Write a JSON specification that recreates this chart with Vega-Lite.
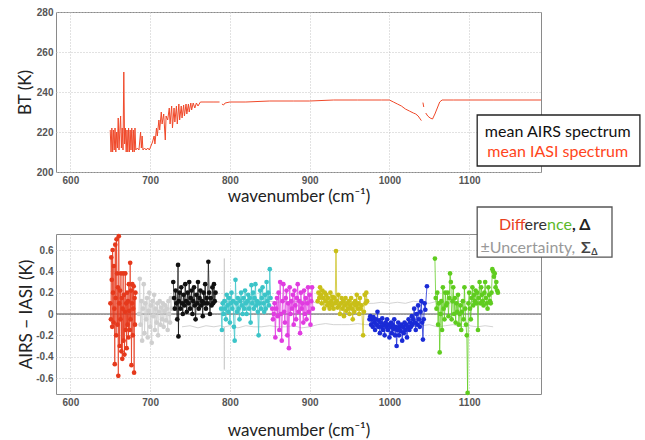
{
"$schema": "https://vega.github.io/schema/vega-lite/v6.json",
"autosize": {"type": "none"},
"padding": {"left": 56, "top": 12, "right": 589, "bottom": 428},
"background": "white",
"spacing": 62,
"bounds": "flush",
"config": {
  "font": "Lato",
  "view": {"stroke": "#8a8a8a", "strokeWidth": 1},
  "axis": {"labelFont": "Liberation Sans", "labelFontSize": 10, "labelFontWeight": "bold", "labelColor": "#555", "labelOverlap": false, "ticks": false, "domain": false, "grid": true, "gridColor": "#c4c4c4", "gridDash": [1, 2], "titleFont": "Lato", "titleFontSize": 17, "titleFontWeight": "normal", "titleColor": "#222", "labelPadding": 3, "titleBaseline": "middle"}
},
"datasets": {
  "spec": [
    {"wn":650,"bt":221,"part":"a"},{"wn":651,"bt":210,"part":"a"},{"wn":652,"bt":222,"part":"a"},{"wn":653,"bt":210,"part":"a"},{"wn":654,"bt":221,"part":"a"},{"wn":655,"bt":211,"part":"a"},{"wn":656,"bt":222,"part":"a"},{"wn":657,"bt":210,"part":"a"},{"wn":658,"bt":220,"part":"a"},{"wn":659,"bt":212,"part":"a"},{"wn":660,"bt":227,"part":"a"},{"wn":661,"bt":211,"part":"a"},{"wn":662,"bt":221,"part":"a"},{"wn":663,"bt":228,"part":"a"},{"wn":664,"bt":212,"part":"a"},{"wn":665,"bt":222,"part":"a"},{"wn":666,"bt":211,"part":"a"},{"wn":667,"bt":250,"part":"a"},{"wn":668,"bt":214,"part":"a"},{"wn":669,"bt":222,"part":"a"},{"wn":670,"bt":210,"part":"a"},{"wn":671,"bt":221,"part":"a"},{"wn":672,"bt":210,"part":"a"},{"wn":673,"bt":222,"part":"a"},{"wn":674,"bt":210,"part":"a"},{"wn":675,"bt":221,"part":"a"},{"wn":676,"bt":211,"part":"a"},{"wn":677,"bt":222,"part":"a"},{"wn":678,"bt":210,"part":"a"},{"wn":679,"bt":221,"part":"a"},{"wn":680,"bt":210,"part":"a"},{"wn":681,"bt":222,"part":"a"},{"wn":682,"bt":211,"part":"a"},{"wn":684,"bt":212,"part":"a"},{"wn":686,"bt":211,"part":"a"},{"wn":688,"bt":220,"part":"a"},{"wn":689,"bt":212,"part":"a"},{"wn":690,"bt":218,"part":"a"},{"wn":691,"bt":211,"part":"a"},{"wn":693,"bt":212,"part":"a"},{"wn":695,"bt":211,"part":"a"},{"wn":697,"bt":212,"part":"a"},{"wn":699,"bt":211,"part":"a"},{"wn":701,"bt":213,"part":"a"},{"wn":703,"bt":215,"part":"a"},{"wn":705,"bt":218,"part":"a"},{"wn":706,"bt":214,"part":"a"},{"wn":708,"bt":222,"part":"a"},{"wn":709,"bt":218,"part":"a"},{"wn":711,"bt":226,"part":"a"},{"wn":712,"bt":221,"part":"a"},{"wn":714,"bt":230,"part":"a"},{"wn":715,"bt":224,"part":"a"},{"wn":717,"bt":229,"part":"a"},{"wn":719,"bt":216,"part":"a"},{"wn":720,"bt":228,"part":"a"},{"wn":722,"bt":226,"part":"a"},{"wn":724,"bt":232,"part":"a"},{"wn":725,"bt":224,"part":"a"},{"wn":727,"bt":233,"part":"a"},{"wn":728,"bt":222,"part":"a"},{"wn":730,"bt":232,"part":"a"},{"wn":731,"bt":225,"part":"a"},{"wn":733,"bt":233,"part":"a"},{"wn":734,"bt":224,"part":"a"},{"wn":736,"bt":234,"part":"a"},{"wn":737,"bt":226,"part":"a"},{"wn":739,"bt":233,"part":"a"},{"wn":740,"bt":227,"part":"a"},{"wn":742,"bt":233.5,"part":"a"},{"wn":743,"bt":228,"part":"a"},{"wn":745,"bt":234,"part":"a"},{"wn":746,"bt":229,"part":"a"},{"wn":748,"bt":234,"part":"a"},{"wn":749,"bt":230,"part":"a"},{"wn":751,"bt":234.5,"part":"a"},{"wn":752,"bt":231,"part":"a"},{"wn":754,"bt":234.5,"part":"a"},{"wn":756,"bt":232,"part":"a"},{"wn":758,"bt":234.5,"part":"a"},{"wn":760,"bt":233,"part":"a"},{"wn":763,"bt":235,"part":"a"},{"wn":770,"bt":235,"part":"a"},{"wn":780,"bt":235,"part":"a"},{"wn":787,"bt":235,"part":"a"},
    {"wn":790,"bt":234,"part":"b"},{"wn":792,"bt":233.5,"part":"b"},{"wn":794,"bt":234.5,"part":"b"},{"wn":800,"bt":235,"part":"b"},{"wn":820,"bt":235,"part":"b"},{"wn":850,"bt":235.5,"part":"b"},{"wn":880,"bt":235.5,"part":"b"},{"wn":900,"bt":235.5,"part":"b"},{"wn":930,"bt":236,"part":"b"},{"wn":960,"bt":236,"part":"b"},{"wn":990,"bt":236,"part":"b"},{"wn":1000,"bt":236,"part":"b"},{"wn":1005,"bt":235,"part":"b"},{"wn":1010,"bt":234,"part":"b"},{"wn":1015,"bt":233,"part":"b"},{"wn":1020,"bt":231.5,"part":"b"},{"wn":1025,"bt":230.5,"part":"b"},{"wn":1030,"bt":229.5,"part":"b"},{"wn":1033,"bt":229,"part":"b"},{"wn":1036,"bt":228,"part":"b"},{"wn":1040,"bt":225.7,"part":"b"},
    {"wn":1042,"bt":234.7,"part":"c"},{"wn":1043,"bt":232.5,"part":"c"},
    {"wn":1045.5,"bt":229.5,"part":"d"},{"wn":1048,"bt":228,"part":"d"},{"wn":1051,"bt":227,"part":"d"},{"wn":1054,"bt":226.5,"part":"d"},{"wn":1057,"bt":229,"part":"d"},{"wn":1060,"bt":232,"part":"d"},{"wn":1063,"bt":235,"part":"d"},{"wn":1066,"bt":236,"part":"d"},{"wn":1080,"bt":236,"part":"d"},{"wn":1100,"bt":236,"part":"d"},{"wn":1130,"bt":236,"part":"d"},{"wn":1160,"bt":236,"part":"d"},{"wn":1190,"bt":236,"part":"d"}
  ],
  "unc": [
    {"wn":740,"up":0.12,"lo":-0.12},{"wn":750,"up":0.11,"lo":-0.11},{"wn":760,"up":0.12,"lo":-0.13},{"wn":770,"up":0.11,"lo":-0.11},{"wn":780,"up":0.12,"lo":-0.12},{"wn":788,"up":0.11,"lo":-0.11},{"wn":792.8,"up":0.12,"lo":-0.12},{"wn":793,"up":0.52,"lo":-0.52},{"wn":793.2,"up":0.12,"lo":-0.12},{"wn":800,"up":0.11,"lo":-0.11},{"wn":810,"up":0.12,"lo":-0.13},{"wn":820,"up":0.11,"lo":-0.11},{"wn":830,"up":0.12,"lo":-0.12},{"wn":840,"up":0.11,"lo":-0.12},{"wn":850,"up":0.12,"lo":-0.11},{"wn":860,"up":0.11,"lo":-0.12},{"wn":870,"up":0.12,"lo":-0.12},{"wn":880,"up":0.11,"lo":-0.11},{"wn":890,"up":0.13,"lo":-0.13},{"wn":900,"up":0.12,"lo":-0.12},{"wn":910,"up":0.1,"lo":-0.1},{"wn":920,"up":0.09,"lo":-0.09},{"wn":930,"up":0.1,"lo":-0.1},{"wn":940,"up":0.09,"lo":-0.1},{"wn":950,"up":0.1,"lo":-0.1},{"wn":960,"up":0.09,"lo":-0.09},{"wn":970,"up":0.1,"lo":-0.1},{"wn":980,"up":0.1,"lo":-0.1},{"wn":990,"up":0.11,"lo":-0.11},{"wn":1000,"up":0.1,"lo":-0.1},{"wn":1010,"up":0.11,"lo":-0.11},{"wn":1020,"up":0.1,"lo":-0.1},{"wn":1030,"up":0.12,"lo":-0.12},{"wn":1040,"up":0.11,"lo":-0.11},{"wn":1050,"up":0.1,"lo":-0.1},{"wn":1060,"up":0.12,"lo":-0.12},{"wn":1070,"up":0.11,"lo":-0.11},{"wn":1080,"up":0.1,"lo":-0.1},{"wn":1090,"up":0.12,"lo":-0.12},{"wn":1100,"up":0.11,"lo":-0.11},{"wn":1110,"up":0.12,"lo":-0.12},{"wn":1120,"up":0.11,"lo":-0.11},{"wn":1130,"up":0.12,"lo":-0.12}
  ],
  "diff": [
    {"wn":650.2,"d":0.1,"b":"red"},{"wn":650.8,"d":-0.05,"b":"red"},{"wn":651.3,"d":0.53,"b":"red"},{"wn":651.9,"d":0.32,"b":"red"},{"wn":652.4,"d":-0.12,"b":"red"},{"wn":653.0,"d":0.6,"b":"red"},{"wn":653.5,"d":0.2,"b":"red"},{"wn":654.1,"d":-0.08,"b":"red"},{"wn":654.6,"d":0.45,"b":"red"},{"wn":655.2,"d":0.05,"b":"red"},{"wn":655.7,"d":-0.47,"b":"red"},{"wn":656.3,"d":0.65,"b":"red"},{"wn":656.8,"d":0.15,"b":"red"},{"wn":657.4,"d":-0.2,"b":"red"},{"wn":657.9,"d":0.7,"b":"red"},{"wn":658.5,"d":0.38,"b":"red"},{"wn":659.0,"d":-0.1,"b":"red"},{"wn":659.6,"d":0.25,"b":"red"},{"wn":660.1,"d":-0.58,"b":"red"},{"wn":660.7,"d":0.73,"b":"red"},{"wn":661.2,"d":0.1,"b":"red"},{"wn":661.8,"d":-0.3,"b":"red"},{"wn":662.3,"d":0.22,"b":"red"},{"wn":662.9,"d":-0.05,"b":"red"},{"wn":663.4,"d":0.38,"b":"red"},{"wn":664.0,"d":-0.35,"b":"red"},{"wn":664.5,"d":0.15,"b":"red"},{"wn":665.1,"d":-0.42,"b":"red"},{"wn":665.6,"d":0.05,"b":"red"},{"wn":666.2,"d":0.38,"b":"red"},{"wn":666.7,"d":-0.25,"b":"red"},{"wn":667.3,"d":0.18,"b":"red"},{"wn":667.8,"d":-0.38,"b":"red"},{"wn":668.4,"d":0.02,"b":"red"},{"wn":668.9,"d":0.38,"b":"red"},{"wn":669.5,"d":-0.15,"b":"red"},{"wn":670.0,"d":0.1,"b":"red"},{"wn":670.6,"d":-0.32,"b":"red"},{"wn":671.1,"d":0.2,"b":"red"},{"wn":671.7,"d":-0.1,"b":"red"},{"wn":672.2,"d":0.12,"b":"red"},{"wn":672.8,"d":-0.22,"b":"red"},{"wn":673.3,"d":0.28,"b":"red"},{"wn":673.9,"d":0.03,"b":"red"},{"wn":674.4,"d":-0.15,"b":"red"},{"wn":675.0,"d":0.48,"b":"red"},{"wn":675.5,"d":-0.05,"b":"red"},{"wn":676.1,"d":0.22,"b":"red"},{"wn":676.6,"d":-0.48,"b":"red"},{"wn":677.2,"d":0.1,"b":"red"},{"wn":677.7,"d":0.28,"b":"red"},{"wn":678.3,"d":-0.2,"b":"red"},{"wn":678.8,"d":0.05,"b":"red"},{"wn":679.4,"d":0.26,"b":"red"},{"wn":679.9,"d":-0.55,"b":"red"},{"wn":680.5,"d":0.15,"b":"red"},{"wn":681.0,"d":-0.1,"b":"red"},{"wn":681.6,"d":0.2,"b":"red"},
    {"wn":686,"d":0.0,"b":"gray"},{"wn":687,"d":0.33,"b":"gray"},{"wn":688,"d":-0.1,"b":"gray"},{"wn":689,"d":0.12,"b":"gray"},{"wn":690,"d":-0.25,"b":"gray"},{"wn":691,"d":0.05,"b":"gray"},{"wn":692,"d":0.28,"b":"gray"},{"wn":693,"d":-0.18,"b":"gray"},{"wn":694,"d":0.1,"b":"gray"},{"wn":695,"d":-0.05,"b":"gray"},{"wn":696,"d":0.15,"b":"gray"},{"wn":697,"d":-0.22,"b":"gray"},{"wn":698,"d":0.03,"b":"gray"},{"wn":699,"d":0.2,"b":"gray"},{"wn":700,"d":-0.12,"b":"gray"},{"wn":701,"d":0.08,"b":"gray"},{"wn":702,"d":-0.27,"b":"gray"},{"wn":703,"d":0.12,"b":"gray"},{"wn":704,"d":-0.02,"b":"gray"},{"wn":705,"d":0.18,"b":"gray"},{"wn":706,"d":-0.15,"b":"gray"},{"wn":707,"d":0.05,"b":"gray"},{"wn":708,"d":-0.08,"b":"gray"},{"wn":709,"d":0.1,"b":"gray"},{"wn":710,"d":-0.2,"b":"gray"},{"wn":711,"d":0.02,"b":"gray"},{"wn":712,"d":0.12,"b":"gray"},{"wn":713,"d":-0.1,"b":"gray"},{"wn":714,"d":0.06,"b":"gray"},{"wn":715,"d":-0.05,"b":"gray"},{"wn":716,"d":0.1,"b":"gray"},{"wn":717,"d":-0.12,"b":"gray"},{"wn":718,"d":0.03,"b":"gray"},{"wn":719,"d":0.08,"b":"gray"},{"wn":720,"d":-0.06,"b":"gray"},{"wn":721,"d":0.05,"b":"gray"},{"wn":722,"d":-0.15,"b":"gray"},{"wn":723,"d":0.12,"b":"gray"},{"wn":724,"d":0.0,"b":"gray"},{"wn":725,"d":-0.08,"b":"gray"},{"wn":726,"d":0.15,"b":"gray"},{"wn":727,"d":0.05,"b":"gray"},
    {"wn":729,"d":0.3,"b":"black"},{"wn":730,"d":0.15,"b":"black"},{"wn":731,"d":0.05,"b":"black"},{"wn":732,"d":0.22,"b":"black"},{"wn":733,"d":0.1,"b":"black"},{"wn":734,"d":-0.05,"b":"black"},{"wn":735,"d":0.46,"b":"black"},{"wn":735.5,"d":-0.21,"b":"black"},{"wn":736,"d":0.12,"b":"black"},{"wn":737,"d":0.2,"b":"black"},{"wn":738,"d":0.05,"b":"black"},{"wn":739,"d":0.25,"b":"black"},{"wn":740,"d":0.1,"b":"black"},{"wn":741,"d":0.0,"b":"black"},{"wn":742,"d":0.18,"b":"black"},{"wn":743,"d":0.08,"b":"black"},{"wn":744,"d":0.28,"b":"black"},{"wn":745,"d":0.12,"b":"black"},{"wn":746,"d":0.02,"b":"black"},{"wn":747,"d":0.2,"b":"black"},{"wn":748,"d":0.1,"b":"black"},{"wn":749,"d":0.3,"b":"black"},{"wn":750,"d":0.05,"b":"black"},{"wn":751,"d":0.15,"b":"black"},{"wn":752,"d":0.22,"b":"black"},{"wn":753,"d":0.0,"b":"black"},{"wn":754,"d":0.12,"b":"black"},{"wn":755,"d":0.25,"b":"black"},{"wn":756,"d":0.08,"b":"black"},{"wn":757,"d":-0.05,"b":"black"},{"wn":758,"d":0.18,"b":"black"},{"wn":759,"d":0.1,"b":"black"},{"wn":760,"d":0.3,"b":"black"},{"wn":761,"d":0.05,"b":"black"},{"wn":762,"d":0.15,"b":"black"},{"wn":763,"d":0.22,"b":"black"},{"wn":764,"d":0.08,"b":"black"},{"wn":765,"d":0.12,"b":"black"},{"wn":766,"d":-0.02,"b":"black"},{"wn":767,"d":0.2,"b":"black"},{"wn":768,"d":0.1,"b":"black"},{"wn":769,"d":0.28,"b":"black"},{"wn":770,"d":0.05,"b":"black"},{"wn":771,"d":0.15,"b":"black"},{"wn":772,"d":0.1,"b":"black"},{"wn":773,"d":0.49,"b":"black"},{"wn":774,"d":0.2,"b":"black"},{"wn":775,"d":0.0,"b":"black"},{"wn":776,"d":0.15,"b":"black"},{"wn":777,"d":0.08,"b":"black"},{"wn":778,"d":0.25,"b":"black"},{"wn":779,"d":0.1,"b":"black"},{"wn":780,"d":0.28,"b":"black"},{"wn":781,"d":0.12,"b":"black"},{"wn":782,"d":0.2,"b":"black"},
    {"wn":789,"d":0.05,"b":"cyan"},{"wn":790,"d":-0.15,"b":"cyan"},{"wn":791,"d":0.1,"b":"cyan"},{"wn":792,"d":0.0,"b":"cyan"},{"wn":793,"d":0.12,"b":"cyan"},{"wn":794,"d":0.05,"b":"cyan"},{"wn":795,"d":-0.05,"b":"cyan"},{"wn":796,"d":0.18,"b":"cyan"},{"wn":797,"d":0.08,"b":"cyan"},{"wn":798,"d":0.02,"b":"cyan"},{"wn":799,"d":0.15,"b":"cyan"},{"wn":800,"d":-0.08,"b":"cyan"},{"wn":801,"d":0.1,"b":"cyan"},{"wn":802,"d":0.2,"b":"cyan"},{"wn":803,"d":0.05,"b":"cyan"},{"wn":804,"d":0.12,"b":"cyan"},{"wn":805,"d":-0.12,"b":"cyan"},{"wn":806,"d":-0.25,"b":"cyan"},{"wn":807,"d":0.32,"b":"cyan"},{"wn":808,"d":0.1,"b":"cyan"},{"wn":809,"d":0.02,"b":"cyan"},{"wn":810,"d":0.15,"b":"cyan"},{"wn":811,"d":0.05,"b":"cyan"},{"wn":812,"d":-0.05,"b":"cyan"},{"wn":813,"d":0.12,"b":"cyan"},{"wn":814,"d":0.2,"b":"cyan"},{"wn":815,"d":0.08,"b":"cyan"},{"wn":816,"d":0.0,"b":"cyan"},{"wn":817,"d":0.15,"b":"cyan"},{"wn":818,"d":0.05,"b":"cyan"},{"wn":819,"d":0.22,"b":"cyan"},{"wn":820,"d":0.1,"b":"cyan"},{"wn":821,"d":0.0,"b":"cyan"},{"wn":822,"d":0.12,"b":"cyan"},{"wn":823,"d":0.18,"b":"cyan"},{"wn":824,"d":0.05,"b":"cyan"},{"wn":825,"d":0.15,"b":"cyan"},{"wn":826,"d":-0.08,"b":"cyan"},{"wn":827,"d":0.27,"b":"cyan"},{"wn":828,"d":0.1,"b":"cyan"},{"wn":829,"d":0.2,"b":"cyan"},{"wn":830,"d":0.05,"b":"cyan"},{"wn":831,"d":0.15,"b":"cyan"},{"wn":832,"d":0.28,"b":"cyan"},{"wn":833,"d":0.08,"b":"cyan"},{"wn":834,"d":0.12,"b":"cyan"},{"wn":835,"d":0.02,"b":"cyan"},{"wn":836,"d":-0.2,"b":"cyan"},{"wn":837,"d":0.1,"b":"cyan"},{"wn":838,"d":0.22,"b":"cyan"},{"wn":839,"d":0.05,"b":"cyan"},{"wn":840,"d":0.15,"b":"cyan"},{"wn":841,"d":0.25,"b":"cyan"},{"wn":842,"d":0.1,"b":"cyan"},{"wn":843,"d":0.02,"b":"cyan"},{"wn":844,"d":0.18,"b":"cyan"},{"wn":845,"d":0.05,"b":"cyan"},{"wn":846,"d":0.3,"b":"cyan"},{"wn":847,"d":0.12,"b":"cyan"},{"wn":848,"d":0.2,"b":"cyan"},{"wn":849,"d":0.08,"b":"cyan"},{"wn":850,"d":0.42,"b":"cyan"},{"wn":851,"d":0.15,"b":"cyan"},
    {"wn":853,"d":0.05,"b":"magenta"},{"wn":854,"d":-0.05,"b":"magenta"},{"wn":855,"d":0.0,"b":"magenta"},{"wn":856,"d":0.1,"b":"magenta"},{"wn":857,"d":-0.22,"b":"magenta"},{"wn":858,"d":0.05,"b":"magenta"},{"wn":859,"d":0.15,"b":"magenta"},{"wn":860,"d":-0.02,"b":"magenta"},{"wn":861,"d":0.2,"b":"magenta"},{"wn":862,"d":-0.15,"b":"magenta"},{"wn":863,"d":0.3,"b":"magenta"},{"wn":864,"d":0.0,"b":"magenta"},{"wn":865,"d":-0.25,"b":"magenta"},{"wn":866,"d":0.12,"b":"magenta"},{"wn":867,"d":0.28,"b":"magenta"},{"wn":868,"d":0.02,"b":"magenta"},{"wn":869,"d":-0.08,"b":"magenta"},{"wn":870,"d":0.15,"b":"magenta"},{"wn":871,"d":0.22,"b":"magenta"},{"wn":872,"d":-0.2,"b":"magenta"},{"wn":873,"d":0.1,"b":"magenta"},{"wn":874,"d":-0.32,"b":"magenta"},{"wn":875,"d":0.25,"b":"magenta"},{"wn":876,"d":0.0,"b":"magenta"},{"wn":877,"d":0.12,"b":"magenta"},{"wn":878,"d":0.05,"b":"magenta"},{"wn":879,"d":0.18,"b":"magenta"},{"wn":880,"d":-0.1,"b":"magenta"},{"wn":881,"d":0.22,"b":"magenta"},{"wn":882,"d":0.08,"b":"magenta"},{"wn":883,"d":-0.05,"b":"magenta"},{"wn":884,"d":0.15,"b":"magenta"},{"wn":885,"d":0.28,"b":"magenta"},{"wn":886,"d":0.02,"b":"magenta"},{"wn":887,"d":0.12,"b":"magenta"},{"wn":888,"d":-0.18,"b":"magenta"},{"wn":889,"d":0.2,"b":"magenta"},{"wn":890,"d":0.05,"b":"magenta"},{"wn":891,"d":0.1,"b":"magenta"},{"wn":892,"d":-0.08,"b":"magenta"},{"wn":893,"d":0.22,"b":"magenta"},{"wn":894,"d":0.0,"b":"magenta"},{"wn":895,"d":0.15,"b":"magenta"},{"wn":896,"d":-0.05,"b":"magenta"},{"wn":897,"d":0.1,"b":"magenta"},{"wn":898,"d":0.25,"b":"magenta"},{"wn":899,"d":0.02,"b":"magenta"},{"wn":900,"d":0.18,"b":"magenta"},{"wn":901,"d":-0.1,"b":"magenta"},{"wn":902,"d":0.12,"b":"magenta"},{"wn":903,"d":0.25,"b":"magenta"},{"wn":904,"d":0.05,"b":"magenta"},
    {"wn":910,"d":0.12,"b":"yellow"},{"wn":911,"d":0.2,"b":"yellow"},{"wn":912,"d":0.15,"b":"yellow"},{"wn":913,"d":0.25,"b":"yellow"},{"wn":914,"d":0.18,"b":"yellow"},{"wn":915,"d":0.1,"b":"yellow"},{"wn":916,"d":0.22,"b":"yellow"},{"wn":917,"d":0.15,"b":"yellow"},{"wn":918,"d":0.05,"b":"yellow"},{"wn":919,"d":0.2,"b":"yellow"},{"wn":920,"d":0.12,"b":"yellow"},{"wn":921,"d":0.18,"b":"yellow"},{"wn":922,"d":0.08,"b":"yellow"},{"wn":923,"d":0.15,"b":"yellow"},{"wn":924,"d":0.1,"b":"yellow"},{"wn":925,"d":0.05,"b":"yellow"},{"wn":926,"d":0.2,"b":"yellow"},{"wn":927,"d":0.12,"b":"yellow"},{"wn":928,"d":0.08,"b":"yellow"},{"wn":929,"d":0.16,"b":"yellow"},{"wn":930,"d":0.05,"b":"yellow"},{"wn":931,"d":0.15,"b":"yellow"},{"wn":932,"d":0.1,"b":"yellow"},{"wn":933,"d":0.59,"b":"yellow"},{"wn":934,"d":0.12,"b":"yellow"},{"wn":935,"d":0.06,"b":"yellow"},{"wn":936,"d":0.18,"b":"yellow"},{"wn":937,"d":0.08,"b":"yellow"},{"wn":938,"d":0.0,"b":"yellow"},{"wn":939,"d":0.1,"b":"yellow"},{"wn":940,"d":0.15,"b":"yellow"},{"wn":941,"d":0.05,"b":"yellow"},{"wn":942,"d":0.12,"b":"yellow"},{"wn":943,"d":-0.02,"b":"yellow"},{"wn":944,"d":0.08,"b":"yellow"},{"wn":945,"d":0.15,"b":"yellow"},{"wn":946,"d":0.03,"b":"yellow"},{"wn":947,"d":0.1,"b":"yellow"},{"wn":948,"d":0.05,"b":"yellow"},{"wn":949,"d":0.12,"b":"yellow"},{"wn":950,"d":0.0,"b":"yellow"},{"wn":951,"d":0.08,"b":"yellow"},{"wn":952,"d":0.15,"b":"yellow"},{"wn":953,"d":0.05,"b":"yellow"},{"wn":954,"d":-0.05,"b":"yellow"},{"wn":955,"d":0.1,"b":"yellow"},{"wn":956,"d":0.02,"b":"yellow"},{"wn":957,"d":0.12,"b":"yellow"},{"wn":958,"d":0.08,"b":"yellow"},{"wn":959,"d":0.18,"b":"yellow"},{"wn":960,"d":0.05,"b":"yellow"},{"wn":961,"d":0.1,"b":"yellow"},{"wn":962,"d":0.0,"b":"yellow"},{"wn":963,"d":0.15,"b":"yellow"},{"wn":964,"d":0.05,"b":"yellow"},{"wn":965,"d":0.08,"b":"yellow"},{"wn":967,"d":-0.2,"b":"yellow"},{"wn":968,"d":0.02,"b":"yellow"},{"wn":969,"d":0.18,"b":"yellow"},{"wn":970,"d":0.1,"b":"yellow"},{"wn":971,"d":0.2,"b":"yellow"},{"wn":972,"d":0.12,"b":"yellow"},
    {"wn":975,"d":-0.05,"b":"blue"},{"wn":976,"d":-0.02,"b":"blue"},{"wn":977,"d":-0.1,"b":"blue"},{"wn":978,"d":-0.05,"b":"blue"},{"wn":979,"d":-0.12,"b":"blue"},{"wn":980,"d":-0.03,"b":"blue"},{"wn":981,"d":-0.08,"b":"blue"},{"wn":982,"d":-0.15,"b":"blue"},{"wn":983,"d":-0.05,"b":"blue"},{"wn":984,"d":-0.1,"b":"blue"},{"wn":985,"d":0.02,"b":"blue"},{"wn":986,"d":-0.12,"b":"blue"},{"wn":987,"d":-0.06,"b":"blue"},{"wn":988,"d":-0.18,"b":"blue"},{"wn":989,"d":-0.08,"b":"blue"},{"wn":990,"d":-0.12,"b":"blue"},{"wn":991,"d":-0.04,"b":"blue"},{"wn":992,"d":-0.15,"b":"blue"},{"wn":993,"d":-0.1,"b":"blue"},{"wn":994,"d":-0.2,"b":"blue"},{"wn":995,"d":-0.08,"b":"blue"},{"wn":996,"d":-0.12,"b":"blue"},{"wn":997,"d":-0.05,"b":"blue"},{"wn":998,"d":-0.15,"b":"blue"},{"wn":999,"d":-0.1,"b":"blue"},{"wn":1000,"d":-0.22,"b":"blue"},{"wn":1001,"d":-0.12,"b":"blue"},{"wn":1002,"d":-0.08,"b":"blue"},{"wn":1003,"d":-0.18,"b":"blue"},{"wn":1004,"d":-0.1,"b":"blue"},{"wn":1005,"d":-0.14,"b":"blue"},{"wn":1006,"d":-0.05,"b":"blue"},{"wn":1007,"d":-0.2,"b":"blue"},{"wn":1008,"d":-0.12,"b":"blue"},{"wn":1009,"d":-0.3,"b":"blue"},{"wn":1010,"d":-0.15,"b":"blue"},{"wn":1011,"d":-0.08,"b":"blue"},{"wn":1012,"d":-0.2,"b":"blue"},{"wn":1013,"d":-0.12,"b":"blue"},{"wn":1014,"d":-0.16,"b":"blue"},{"wn":1015,"d":-0.1,"b":"blue"},{"wn":1016,"d":-0.25,"b":"blue"},{"wn":1017,"d":-0.12,"b":"blue"},{"wn":1018,"d":-0.18,"b":"blue"},{"wn":1019,"d":-0.08,"b":"blue"},{"wn":1020,"d":-0.15,"b":"blue"},{"wn":1021,"d":-0.1,"b":"blue"},{"wn":1022,"d":-0.22,"b":"blue"},{"wn":1023,"d":-0.12,"b":"blue"},{"wn":1024,"d":-0.05,"b":"blue"},{"wn":1025,"d":-0.15,"b":"blue"},{"wn":1026,"d":-0.08,"b":"blue"},{"wn":1027,"d":-0.12,"b":"blue"},{"wn":1028,"d":-0.02,"b":"blue"},{"wn":1029,"d":-0.1,"b":"blue"},{"wn":1030,"d":-0.05,"b":"blue"},{"wn":1031,"d":0.05,"b":"blue"},{"wn":1032,"d":-0.08,"b":"blue"},{"wn":1033,"d":-0.15,"b":"blue"},{"wn":1034,"d":0.0,"b":"blue"},{"wn":1035,"d":-0.1,"b":"blue"},{"wn":1036,"d":0.08,"b":"blue"},{"wn":1037,"d":-0.05,"b":"blue"},{"wn":1038,"d":-0.12,"b":"blue"},{"wn":1039,"d":0.02,"b":"blue"},{"wn":1040,"d":0.12,"b":"blue"},{"wn":1041,"d":-0.08,"b":"blue"},{"wn":1042,"d":-0.24,"b":"blue"},{"wn":1043,"d":-0.05,"b":"blue"},{"wn":1044,"d":0.1,"b":"blue"},{"wn":1045,"d":0.04,"b":"blue"},{"wn":1047,"d":0.26,"b":"blue"},
    {"wn":1057,"d":0.52,"b":"green"},{"wn":1058,"d":0.15,"b":"green"},{"wn":1059,"d":0.05,"b":"green"},{"wn":1060,"d":0.2,"b":"green"},{"wn":1061,"d":-0.1,"b":"green"},{"wn":1062,"d":0.1,"b":"green"},{"wn":1063,"d":-0.36,"b":"green"},{"wn":1064,"d":0.0,"b":"green"},{"wn":1065,"d":0.12,"b":"green"},{"wn":1066,"d":-0.15,"b":"green"},{"wn":1067,"d":0.25,"b":"green"},{"wn":1068,"d":0.05,"b":"green"},{"wn":1069,"d":-0.05,"b":"green"},{"wn":1070,"d":0.2,"b":"green"},{"wn":1071,"d":0.08,"b":"green"},{"wn":1072,"d":0.1,"b":"green"},{"wn":1073,"d":0.2,"b":"green"},{"wn":1074,"d":-0.02,"b":"green"},{"wn":1075,"d":0.15,"b":"green"},{"wn":1076,"d":0.38,"b":"green"},{"wn":1077,"d":0.3,"b":"green"},{"wn":1078,"d":-0.05,"b":"green"},{"wn":1079,"d":0.12,"b":"green"},{"wn":1080,"d":0.25,"b":"green"},{"wn":1081,"d":0.0,"b":"green"},{"wn":1082,"d":0.15,"b":"green"},{"wn":1083,"d":-0.08,"b":"green"},{"wn":1084,"d":0.1,"b":"green"},{"wn":1085,"d":0.02,"b":"green"},{"wn":1086,"d":0.18,"b":"green"},{"wn":1087,"d":-0.1,"b":"green"},{"wn":1088,"d":0.0,"b":"green"},{"wn":1089,"d":0.08,"b":"green"},{"wn":1090,"d":-0.15,"b":"green"},{"wn":1091,"d":0.02,"b":"green"},{"wn":1092,"d":0.12,"b":"green"},{"wn":1093,"d":-0.05,"b":"green"},{"wn":1094,"d":0.25,"b":"green"},{"wn":1095,"d":0.05,"b":"green"},{"wn":1096,"d":-0.1,"b":"green"},{"wn":1097,"d":-0.2,"b":"green"},{"wn":1098,"d":-0.74,"b":"green"},{"wn":1099,"d":0.1,"b":"green"},{"wn":1100,"d":0.2,"b":"green"},{"wn":1101,"d":0.05,"b":"green"},{"wn":1102,"d":-0.05,"b":"green"},{"wn":1103,"d":0.15,"b":"green"},{"wn":1104,"d":0.25,"b":"green"},{"wn":1105,"d":0.08,"b":"green"},{"wn":1106,"d":0.18,"b":"green"},{"wn":1107,"d":0.12,"b":"green"},{"wn":1108,"d":0.22,"b":"green"},{"wn":1109,"d":0.1,"b":"green"},{"wn":1110,"d":0.2,"b":"green"},{"wn":1111,"d":-0.15,"b":"green"},{"wn":1112,"d":0.15,"b":"green"},{"wn":1113,"d":0.3,"b":"green"},{"wn":1114,"d":0.1,"b":"green"},{"wn":1115,"d":0.25,"b":"green"},{"wn":1116,"d":0.18,"b":"green"},{"wn":1117,"d":0.12,"b":"green"},{"wn":1118,"d":0.08,"b":"green"},{"wn":1119,"d":0.2,"b":"green"},{"wn":1120,"d":0.3,"b":"green"},{"wn":1121,"d":0.15,"b":"green"},{"wn":1122,"d":0.1,"b":"green"},{"wn":1123,"d":0.05,"b":"green"},{"wn":1124,"d":0.25,"b":"green"},{"wn":1125,"d":0.18,"b":"green"},{"wn":1126,"d":0.12,"b":"green"},{"wn":1127,"d":0.1,"b":"green"},{"wn":1128,"d":0.2,"b":"green"},{"wn":1129,"d":0.42,"b":"green"},{"wn":1130,"d":0.4,"b":"green"},{"wn":1131,"d":0.35,"b":"green"},{"wn":1132,"d":0.38,"b":"green"},{"wn":1133,"d":0.25,"b":"green"},{"wn":1134,"d":0.3,"b":"green"},{"wn":1135,"d":0.22,"b":"green"},{"wn":1136,"d":0.2,"b":"green"}
  ]
},
"vconcat": [
  {
    "width": 485, "height": 160,
    "layer": [
      {"data": {"name": "spec"}, "mark": {"type": "line", "color": "#f0492a", "strokeWidth": 1},
       "encoding": {
         "x": {"field": "wn", "type": "quantitative", "scale": {"domain": [582, 1190], "nice": false, "zero": false}, "axis": {"values": [600, 700, 800, 900, 1000, 1100], "tickCount": 20, "format": "d", "title": "wavenumber (cm⁻¹)", "titleY": 24}},
         "y": {"field": "bt", "type": "quantitative", "scale": {"domain": [200, 280], "nice": false, "zero": false}, "axis": {"values": [200, 220, 240, 260, 280], "tickCount": 20, "title": "BT (K)", "titleX": -31}},
         "detail": {"field": "part"}
       }},
      {"data": {"values": [{}]}, "mark": {"type": "rect", "fill": "white", "stroke": "#222", "strokeWidth": 1.3},
       "encoding": {"x": {"datum": 1110}, "x2": {"datum": 1314}, "y": {"datum": 228.5}, "y2": {"datum": 203}}},
      {"data": {"values": [{}]}, "mark": {"type": "text", "text": "mean AIRS spectrum", "font": "Lato", "fontSize": 16, "color": "#111"},
       "encoding": {"x": {"datum": 1211}, "y": {"datum": 220.2}}},
      {"data": {"values": [{}]}, "mark": {"type": "text", "text": "mean IASI spectrum", "font": "Lato", "fontSize": 16, "color": "#ff4520"},
       "encoding": {"x": {"datum": 1211}, "y": {"datum": 210.2}}}
    ]
  },
  {
    "width": 485, "height": 160,
    "layer": [
      {"data": {"name": "unc"}, "mark": {"type": "line", "color": "#c8c8c8", "strokeWidth": 0.8},
       "encoding": {
         "x": {"field": "wn", "type": "quantitative", "scale": {"domain": [582, 1190], "nice": false, "zero": false}, "axis": {"values": [600, 700, 800, 900, 1000, 1100], "tickCount": 20, "format": "d", "title": "wavenumber (cm⁻¹)", "titleY": 36}},
         "y": {"field": "up", "type": "quantitative", "scale": {"domain": [-0.75, 0.75], "nice": false}, "axis": {"values": [-0.6, -0.4, -0.2, 0, 0.2, 0.4, 0.6], "tickCount": 20, "format": "~g", "labelExpr": "replace(datum.label, '−', '-')", "title": "AIRS − IASI (K)", "titleX": -30}}
       }},
      {"data": {"name": "unc"}, "mark": {"type": "line", "color": "#c8c8c8", "strokeWidth": 0.8},
       "encoding": {"x": {"field": "wn", "type": "quantitative"}, "y": {"field": "lo", "type": "quantitative"}}},
      {"data": {"values": [{}]}, "mark": {"type": "rule", "color": "#555", "strokeWidth": 1}, "encoding": {"y": {"datum": 0}}},
      {"data": {"name": "diff"}, "mark": {"type": "line", "strokeWidth": 1, "opacity": 0.75},
       "encoding": {"x": {"field": "wn", "type": "quantitative"}, "y": {"field": "d", "type": "quantitative"},
         "color": {"field": "b", "type": "nominal", "legend": null, "scale": {"domain": ["red", "gray", "black", "cyan", "magenta", "yellow", "blue", "green"], "range": ["#e5391c", "#cfcfcf", "#111111", "#3cc4c8", "#e03ce0", "#c9bf18", "#1a2bd6", "#5fcc1f"]}}}},
      {"data": {"name": "diff"}, "mark": {"type": "circle", "size": 22, "opacity": 1},
       "encoding": {"x": {"field": "wn", "type": "quantitative"}, "y": {"field": "d", "type": "quantitative"},
         "color": {"field": "b", "type": "nominal", "legend": null}}},
      {"data": {"values": [{}]}, "mark": {"type": "rect", "fill": "white", "stroke": "#555", "strokeWidth": 1.3},
       "encoding": {"x": {"datum": 1110}, "x2": {"datum": 1279}, "y": {"datum": 1.003}, "y2": {"datum": 0.534}}},
      {"data": {"values": [{}]}, "mark": {"type": "text", "text": "Diff", "font": "Lato", "fontSize": 16, "align": "left", "color": "#e8401c"},
       "encoding": {"x": {"datum": 1137.3}, "y": {"datum": 0.834}}},
      {"data": {"values": [{}]}, "mark": {"type": "text", "text": "ere", "font": "Lato", "fontSize": 16, "align": "left", "color": "#333"},
       "encoding": {"x": {"datum": 1169.4}, "y": {"datum": 0.834}}},
      {"data": {"values": [{}]}, "mark": {"type": "text", "text": "nce", "font": "Lato", "fontSize": 16, "align": "left", "color": "#5cb82a"},
       "encoding": {"x": {"datum": 1197.5}, "y": {"datum": 0.834}}},
      {"data": {"values": [{}]}, "mark": {"type": "text", "text": ", Δ", "font": "Lato", "fontSize": 16, "fontWeight": "bold", "align": "left", "color": "#222"},
       "encoding": {"x": {"datum": 1228.9}, "y": {"datum": 0.834}}},
      {"data": {"values": [{}]}, "mark": {"type": "text", "text": "±Uncertainty,", "font": "Lato", "fontSize": 16, "align": "left", "color": "#999"},
       "encoding": {"x": {"datum": 1114}, "y": {"datum": 0.619}}},
      {"data": {"values": [{}]}, "mark": {"type": "text", "text": "Σ", "font": "Lato", "fontSize": 16, "fontWeight": "bold", "align": "left", "color": "#444"},
       "encoding": {"x": {"datum": 1240}, "y": {"datum": 0.619}}},
      {"data": {"values": [{}]}, "mark": {"type": "text", "text": "Δ", "font": "Lato", "fontSize": 9, "fontWeight": "bold", "align": "left", "color": "#444"},
       "encoding": {"x": {"datum": 1253}, "y": {"datum": 0.58}}}
    ]
  }
]
}
